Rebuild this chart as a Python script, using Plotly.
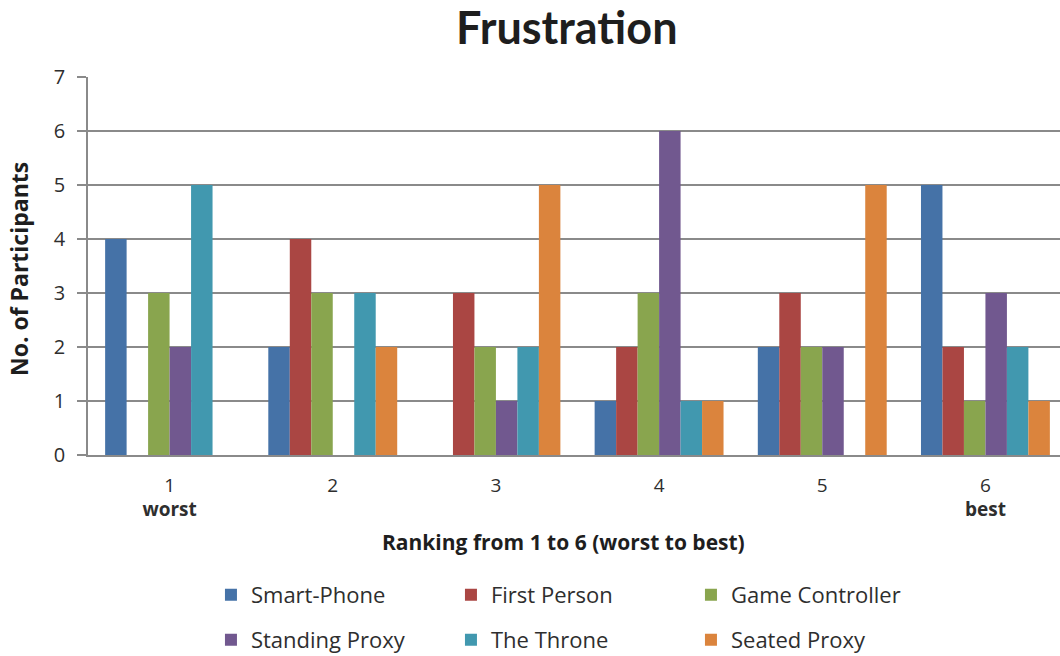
import plotly.graph_objects as go

# Ranking positions (1 = worst, 6 = best)
rankings = [1, 2, 3, 4, 5, 6]
tick_labels = ["1<br><b>worst</b>", "2", "3", "4", "5", "6<br><b>best</b>"]

# Number of participants giving each ranking, per interface
smart_phone = [4, 2, 0, 1, 2, 5]
first_person = [0, 4, 3, 2, 3, 2]
game_controller = [3, 3, 2, 3, 2, 1]
standing_proxy = [2, 0, 1, 6, 2, 3]
the_throne = [5, 3, 2, 1, 0, 2]
seated_proxy = [0, 2, 5, 1, 5, 1]

series = [
    ("Smart-Phone", smart_phone, "#4572A7", "legend"),
    ("First Person", first_person, "#AA4643", "legend"),
    ("Game Controller", game_controller, "#89A54E", "legend"),
    ("Standing Proxy", standing_proxy, "#71588F", "legend2"),
    ("The Throne", the_throne, "#4198AF", "legend2"),
    ("Seated Proxy", seated_proxy, "#DB843D", "legend2"),
]

FONT = "'Open Sans', sans-serif"
TITLE_FONT = "Lato, 'Open Sans', sans-serif"
GRID = "#8a8a8a"
TEXT = "#1e1e1e"
TICK_TEXT = "#2e2e2e"

fig = go.Figure()
for name, vals, color, leg in series:
    fig.add_trace(go.Bar(
        x=rankings, y=vals, name=name,
        marker=dict(color=color, line=dict(width=0)),
        legend=leg,
    ))

legend_common = dict(
    orientation="h",
    xanchor="left",
    yanchor="middle",
    font=dict(family=FONT, size=22, color=TICK_TEXT),
    entrywidth=195,
    entrywidthmode="pixels",
    itemwidth=30,
    bgcolor="rgba(0,0,0,0)",
    traceorder="normal",
)

fig.update_layout(
    width=1060,
    height=656,
    margin=dict(l=88, r=0, t=77, b=201, autoexpand=False),
    paper_bgcolor="white",
    plot_bgcolor="white",
    barmode="group",
    bargap=0.21,
    bargroupgap=0,
    font=dict(family=FONT, color=TEXT),
    legend=dict(x=0.1265, y=-0.370, **legend_common),
    legend2=dict(x=0.1265, y=-0.489, **legend_common),
    xaxis=dict(
        range=[0.5, 6.457],
        tickvals=rankings,
        ticktext=tick_labels,
        showline=True,
        linecolor=GRID,
        linewidth=1.5,
        showgrid=False,
        zeroline=False,
        ticks="",
        ticklabelstandoff=12,
        tickfont=dict(family=FONT, size=19, color=TICK_TEXT),
    ),
    yaxis=dict(
        range=[0, 7],
        dtick=1,
        showline=True,
        linecolor=GRID,
        linewidth=1.5,
        showgrid=True,
        gridcolor=GRID,
        gridwidth=1.5,
        zeroline=False,
        ticks="outside",
        ticklen=9,
        tickcolor=GRID,
        tickwidth=1.5,
        ticklabelstandoff=8,
        tickfont=dict(family=FONT, size=20, color=TICK_TEXT),
    ),
    annotations=[
        dict(text="<b>Frustration</b>", xref="paper", yref="paper",
             x=0.4933, y=1, yshift=50, xanchor="center", yanchor="middle",
             showarrow=False, font=dict(family=TITLE_FONT, size=45, color=TEXT)),
        dict(text="<b>Ranking from 1 to 6 (worst to best)</b>", xref="paper", yref="paper",
             x=0.4887, y=0, yshift=-87, xanchor="center", yanchor="middle",
             showarrow=False, font=dict(family=FONT, size=21, color=TEXT)),
        dict(text="<b>No. of Participants</b>", xref="paper", yref="paper",
             x=0, xshift=-69, y=0.5, yshift=-3, xanchor="center", yanchor="middle",
             textangle=-90, showarrow=False,
             font=dict(family=FONT, size=23, color=TEXT)),
    ],
)

fig.write_html("out.html")
